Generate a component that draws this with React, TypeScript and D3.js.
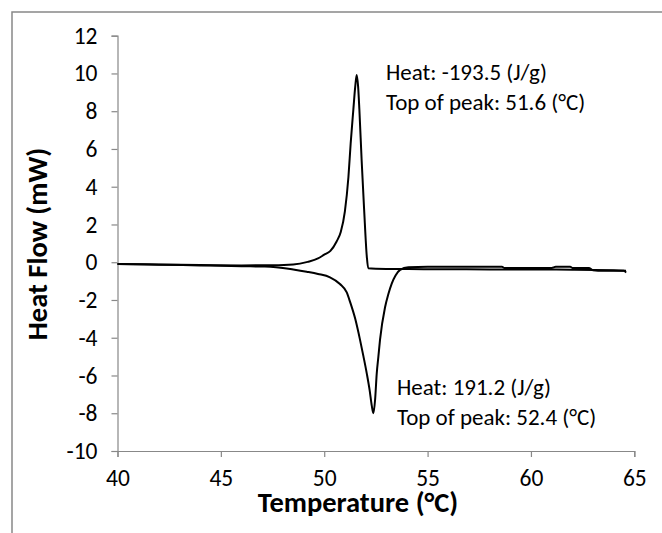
import React, { useEffect, useRef } from "react";
import * as d3 from "d3";

// cooling run (exothermic peak, points up)
const coolT = [40, 42, 44, 46, 47.5, 48.5, 49.2, 49.7, 50.0, 50.3, 50.6, 50.8, 51.0, 51.17, 51.28, 51.41, 51.5, 51.57, 51.64, 51.7, 51.81, 51.93, 52.06, 52.13, 52.5, 54, 56, 58, 60, 62, 64, 64.6];
const coolHF = [-0.1, -0.12, -0.15, -0.17, -0.16, -0.12, 0.02, 0.2, 0.4, 0.6, 1.1, 1.6, 2.7, 4.5, 6.3, 8.1, 9.3, 9.92, 9.3, 8.1, 5.4, 2.8, 0.3, -0.32, -0.34, -0.36, -0.37, -0.38, -0.38, -0.4, -0.42, -0.45];

// heating run (endothermic peak, points down)
const heatT = [40, 42, 44, 45, 46, 47, 47.4, 48, 48.5, 49.15, 49.7, 50.28, 50.76, 51.09, 51.25, 51.5, 51.73, 51.9, 52.06, 52.2, 52.3, 52.38, 52.46, 52.54, 52.62, 52.7, 52.94, 53.1, 53.27, 53.45, 53.67, 54.07, 55, 56, 58.6, 58.7, 61, 61.2, 61.9, 62.0, 62.8, 63.0, 63.5, 64.5, 64.6];
const heatHF = [-0.1, -0.13, -0.17, -0.19, -0.21, -0.23, -0.24, -0.3, -0.38, -0.5, -0.62, -0.8, -1.15, -1.6, -2.1, -3.0, -4.1, -5.0, -5.9, -6.8, -7.6, -8.0, -7.3, -5.9, -5.0, -4.1, -2.4, -1.7, -1.12, -0.7, -0.41, -0.27, -0.24, -0.24, -0.24, -0.3, -0.3, -0.24, -0.24, -0.3, -0.3, -0.42, -0.45, -0.45, -0.55];

const xTicks = [40, 45, 50, 55, 60, 65];
const yTicks = [12, 10, 8, 6, 4, 2, 0, -2, -4, -6, -8, -10];

const topNote = ["Heat: -193.5 (J/g)", "Top of peak: 51.6 (°C)"];
const bottomNote = ["Heat: 191.2 (J/g)", "Top of peak: 52.4 (°C)"];

const App = () => {
  const ref = useRef<SVGSVGElement>(null);

  useEffect(() => {
    if (!ref.current) return;
    const width = 662;
    const height = 533;
    const font = "Carlito, Calibri, Lato, sans-serif";
    const axisColor = "#888888";

    const svg = d3.select(ref.current);
    svg.selectAll("*").remove();

    // chart area border (runs off the right and bottom edge)
    svg
      .append("rect")
      .attr("x", 12)
      .attr("y", 12)
      .attr("width", width)
      .attr("height", height)
      .attr("fill", "white")
      .attr("stroke", axisColor)
      .attr("stroke-width", 1.5);

    const x = d3.scaleLinear().domain([40, 65]).range([117.5, 634.3]);
    const y = d3.scaleLinear().domain([-10, 12]).range([451, 35.7]);

    const yAxis = svg
      .append("g")
      .attr("transform", `translate(${x(40)},0)`)
      .call(
        d3.axisLeft(y).tickValues(yTicks).tickSize(6).tickPadding(14)
          .tickFormat((d) => String(d))
      );
    const xAxis = svg
      .append("g")
      .attr("transform", `translate(0,${y(-10)})`)
      .call(
        d3.axisBottom(x).tickValues(xTicks).tickSize(6).tickPadding(12)
          .tickFormat((d) => String(d))
      );

    [xAxis, yAxis].forEach((g) => {
      g.attr("font-family", font).attr("font-size", 23.5);
      g.select(".domain").attr("stroke", axisColor).attr("stroke-width", 1.2);
      g.selectAll(".tick line").attr("stroke", axisColor).attr("stroke-width", 1.2);
      g.selectAll(".tick text").attr("fill", "#000");
    });

    const line = d3
      .line<number>()
      .x((d) => x(d[0]))
      .y((d) => y(d[1]))
      .curve(d3.curveMonotoneX);

    const series = [
      d3.zip(coolT, coolHF),
      d3.zip(heatT, heatHF),
    ];

    svg
      .append("g")
      .selectAll("path")
      .data(series)
      .enter()
      .append("path")
      .attr("d", (d) => line(d as any))
      .attr("fill", "none")
      .attr("stroke", "#000")
      .attr("stroke-width", 2);

    const note = (lines: string[], px: number, py: number) => {
      svg
        .append("g")
        .selectAll("text")
        .data(lines)
        .enter()
        .append("text")
        .attr("x", px)
        .attr("y", (d, i) => py + i * 30)
        .attr("font-family", font)
        .attr("font-size", 23)
        .attr("fill", "#000")
        .text((d) => d);
    };
    note(topNote, 386, 80);
    note(bottomNote, 397, 395);

    svg
      .append("text")
      .attr("x", 358)
      .attr("y", 512)
      .attr("text-anchor", "middle")
      .attr("font-family", font)
      .attr("font-size", 28.5)
      .attr("font-weight", "bold")
      .text("Temperature (°C)");

    svg
      .append("text")
      .attr("transform", `translate(47,244) rotate(-90)`)
      .attr("text-anchor", "middle")
      .attr("font-family", font)
      .attr("font-size", 28.5)
      .attr("font-weight", "bold")
      .text("Heat Flow (mW)");
  }, []);

  return (
    <svg
      ref={ref}
      width={662}
      height={533}
      style={{ position: "absolute", left: 0, top: 0, background: "white" }}
    />
  );
};

export default App;
